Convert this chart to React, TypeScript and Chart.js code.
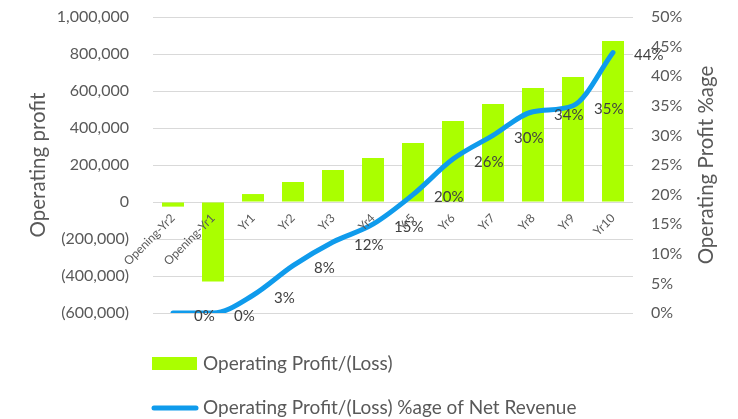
import React, { useEffect, useRef } from 'react';
import { Chart, registerables } from 'chart.js';

Chart.register(...registerables);

const categories = ['Opening-Yr2', 'Opening-Yr1', 'Yr1', 'Yr2', 'Yr3', 'Yr4', 'Yr5', 'Yr6', 'Yr7', 'Yr8', 'Yr9', 'Yr10'];
const operatingProfit = [-25000, -430000, 43000, 108000, 173000, 238000, 319000, 438000, 530000, 616000, 676000, 870000];
const profitPct = [0, 0, 3, 8, 12, 15, 20, 26, 30, 34, 35, 44];

const leftMin = -600000;
const leftMax = 1000000;
const leftStep = 200000;
const rightMin = 0;
const rightMax = 50;
const rightStep = 5;

const barLabel = 'Operating Profit/(Loss)';
const lineLabel = 'Operating Profit/(Loss) %age of Net Revenue';
const leftTitle = 'Operating profit';
const rightTitle = 'Operating Profit %age';

const GREEN = '#aaff00';
const BLUE = '#0f9bec';
const GRAY = '#595959';
const FONT = 'Lato, "Liberation Sans", sans-serif';

const fmt = (v: number) => Math.abs(v).toLocaleString('en-US');

const pointLabels = {
  id: 'pointLabels',
  afterDatasetsDraw(chart: any) {
    const meta = chart.getDatasetMeta(1);
    const ctx = chart.ctx;
    ctx.save();
    ctx.font = `15px ${FONT}`;
    ctx.fillStyle = '#404040';
    ctx.textAlign = 'left';
    ctx.textBaseline = 'middle';
    meta.data.forEach((pt: any, i: number) => {
      ctx.fillText(`${profitPct[i]}%`, pt.x + 21, pt.y + 3);
    });
    ctx.restore();
  },
};

const customLegend = {
  id: 'customLegend',
  afterDraw(chart: any) {
    const { ctx, chartArea } = chart;
    const x = chartArea.left - 1;
    const y1 = chartArea.bottom + 51;
    const y2 = chartArea.bottom + 95;
    ctx.save();
    ctx.fillStyle = GREEN;
    ctx.fillRect(x, y1 - 7, 45, 13);
    ctx.strokeStyle = BLUE;
    ctx.lineWidth = 5;
    ctx.lineCap = 'round';
    ctx.beginPath();
    ctx.moveTo(x + 2, y2);
    ctx.lineTo(x + 44, y2);
    ctx.stroke();
    ctx.font = `19px ${FONT}`;
    ctx.fillStyle = GRAY;
    ctx.textAlign = 'left';
    ctx.textBaseline = 'middle';
    ctx.fillText(barLabel, x + 51, y1);
    ctx.fillText(lineLabel, x + 51, y2);
    // right axis title, reading bottom to top
    ctx.translate(706, (chartArea.top + chartArea.bottom) / 2);
    ctx.rotate(-Math.PI / 2);
    ctx.textAlign = 'center';
    ctx.font = `20.5px ${FONT}`;
    ctx.fillText(rightTitle, 0, 0);
    ctx.restore();
  },
};

export default function App() {
  const ref = useRef<HTMLCanvasElement>(null);
  useEffect(() => {
    if (!ref.current) return;
    const chart = new Chart(ref.current, {
      type: 'bar',
      data: {
        labels: categories,
        datasets: [
          {
            type: 'bar',
            label: barLabel,
            data: operatingProfit,
            backgroundColor: GREEN,
            yAxisID: 'y',
            barPercentage: 0.55,
            categoryPercentage: 1,
            order: 1,
          },
          {
            type: 'line',
            label: lineLabel,
            data: profitPct,
            borderColor: BLUE,
            backgroundColor: BLUE,
            borderWidth: 5,
            borderCapStyle: 'round',
            pointRadius: 0,
            cubicInterpolationMode: 'monotone',
            yAxisID: 'y1',
            order: 0,
          } as any,
        ],
      },
      options: {
        responsive: false,
        animation: false,
        layout: { padding: { top: 17, bottom: 106, left: 0, right: 0 } },
        plugins: {
          legend: { display: false },
          tooltip: { enabled: false },
        },
        scales: {
          x: {
            type: 'category',
            position: { y: 0 } as any,
            grid: { display: false },
            border: { display: false },
            ticks: {
              z: 1,
              color: GRAY,
              font: { family: FONT, size: 12 },
              minRotation: 45,
              maxRotation: 45,
              autoSkip: false,
              padding: 1,
            },
            afterFit: (s: any) => { s.height = 0; },
          } as any,
          y: {
            position: 'left',
            min: leftMin,
            max: leftMax,
            grid: { color: '#d9d9d9', drawTicks: false },
            border: { display: false },
            ticks: {
              stepSize: leftStep,
              color: GRAY,
              padding: 24,
              font: { family: FONT, size: 16 },
              callback: (v: any) => (v < 0 ? `(${fmt(v)})` : fmt(v)),
            },
            title: {
              display: true,
              text: leftTitle,
              color: GRAY,
              font: { family: FONT, size: 20.5 },
              padding: { top: 26, bottom: 0 },
            },
            afterFit: (s: any) => { s.width = 153; s.paddingTop = 0; s.paddingBottom = 0; },
          },
          y1: {
            position: 'right',
            min: rightMin,
            max: rightMax,
            grid: { display: false, drawTicks: false },
            border: { display: false },
            ticks: {
              stepSize: rightStep,
              color: GRAY,
              padding: 18,
              font: { family: FONT, size: 16 },
              callback: (v: any) => `${v}%`,
            },
            afterFit: (s: any) => { s.width = 105; s.paddingTop = 0; s.paddingBottom = 0; },
          },
        },
      },
      plugins: [pointLabels, customLegend],
    });
    return () => chart.destroy();
  }, []);
  return (
    <div style={{ position: 'fixed', left: 0, top: 0, width: 738, height: 419, background: '#fff' }}>
      <canvas ref={ref} width={738} height={419} style={{ width: 738, height: 419, display: 'block' }} />
    </div>
  );
}
